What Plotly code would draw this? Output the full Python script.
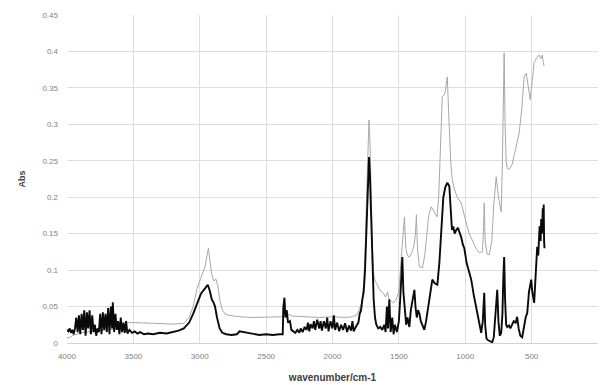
import plotly.graph_objects as go

# Wavenumber (cm-1) and absorbance for the two IR spectra.
black_wn = [
    4000, 3990, 3980, 3970, 3960, 3950, 3940, 3930, 3920, 3910,
    3900, 3890, 3880, 3870, 3860, 3850, 3840, 3830, 3820, 3810,
    3800, 3790, 3780, 3770, 3760, 3750, 3740, 3730, 3720, 3710,
    3700, 3690, 3680, 3670, 3660, 3655, 3645, 3635, 3625, 3615,
    3605, 3595, 3585, 3575, 3565, 3555, 3545,
    3530, 3510, 3490, 3470, 3450, 3420, 3390, 3350, 3300, 3250,
    3200, 3160, 3120, 3080, 3050, 3020, 2990, 2960, 2940, 2925,
    2910, 2895, 2885, 2870, 2850, 2830, 2800, 2760, 2720, 2700,
    2670, 2640, 2600, 2550, 2500, 2450, 2400, 2375,
    2370, 2362, 2355, 2345, 2335, 2320, 2310, 2295, 2280, 2265,
    2250, 2240, 2225, 2210, 2195, 2185, 2175, 2165, 2150, 2140,
    2130, 2115, 2100, 2090, 2080, 2065, 2050, 2040, 2030, 2015,
    2000, 1990, 1980, 1965, 1950, 1935, 1920, 1905, 1890, 1875,
    1860, 1850, 1840, 1825, 1815,
    1805, 1795, 1785, 1775, 1765, 1755, 1745, 1735, 1725, 1718,
    1710, 1700, 1690, 1680, 1670, 1655, 1640, 1625, 1610, 1600,
    1590, 1582, 1572, 1562, 1550, 1540, 1530, 1515,
    1500, 1490, 1482, 1474, 1466, 1455, 1445, 1435, 1421, 1410,
    1400, 1390, 1383, 1375, 1365, 1355, 1345, 1335, 1320, 1308,
    1295, 1280, 1265, 1248, 1230, 1210, 1195, 1180, 1165, 1150,
    1135, 1120, 1110, 1100, 1090, 1080, 1068, 1055, 1040, 1030,
    1018, 1007,
    990, 970, 955, 935, 920, 910, 895, 880, 868, 857,
    850, 840, 830, 815, 797, 785, 775, 765, 759, 750,
    740, 729, 720, 713, 707, 700, 692, 684, 670, 660,
    647, 635, 620, 609, 598, 585, 571, 560, 545, 533,
    520, 503, 495, 481, 470, 458, 450, 440, 432, 428,
    422, 416, 412, 409, 406, 403,
]
black_abs = [
    0.018, 0.016, 0.020, 0.014, 0.018, 0.012, 0.020, 0.035, 0.015, 0.038,
    0.012, 0.040, 0.018, 0.045, 0.010, 0.042, 0.020, 0.045, 0.012, 0.038,
    0.015, 0.025, 0.010, 0.020, 0.015, 0.040, 0.012, 0.042, 0.018, 0.040,
    0.015, 0.048, 0.012, 0.050, 0.020, 0.056, 0.015, 0.040, 0.018, 0.030,
    0.012, 0.035, 0.015, 0.028, 0.014, 0.030, 0.013,
    0.018, 0.014, 0.016, 0.013, 0.015, 0.012, 0.013, 0.012, 0.014, 0.013,
    0.015, 0.017, 0.020, 0.028, 0.040, 0.055, 0.068, 0.075, 0.080, 0.072,
    0.060, 0.055, 0.050, 0.035, 0.020, 0.014, 0.012, 0.011, 0.012, 0.016,
    0.015, 0.013, 0.012, 0.011, 0.012, 0.011, 0.012, 0.012,
    0.050, 0.062, 0.035, 0.045, 0.028, 0.030, 0.018, 0.016, 0.014, 0.018,
    0.014, 0.020, 0.015, 0.022, 0.018, 0.028, 0.016, 0.026, 0.020, 0.030,
    0.018, 0.032, 0.020, 0.030, 0.017, 0.030, 0.020, 0.035, 0.016, 0.030,
    0.020, 0.038, 0.018, 0.028, 0.016, 0.025, 0.018, 0.027, 0.015, 0.024,
    0.017, 0.030, 0.016, 0.022, 0.025,
    0.028, 0.040, 0.045, 0.060, 0.070, 0.100, 0.160, 0.220, 0.255, 0.230,
    0.170, 0.100, 0.060, 0.035, 0.025, 0.020, 0.022, 0.018, 0.025, 0.015,
    0.050, 0.020, 0.060, 0.015, 0.035, 0.012, 0.025, 0.015,
    0.030, 0.060, 0.090, 0.118, 0.070, 0.040, 0.025, 0.035, 0.022, 0.045,
    0.055, 0.065, 0.073, 0.050, 0.035, 0.045, 0.040, 0.030, 0.022, 0.018,
    0.030, 0.050, 0.070, 0.087, 0.082, 0.080, 0.110, 0.160, 0.200, 0.214,
    0.220, 0.215, 0.190, 0.155, 0.160, 0.150, 0.155, 0.158, 0.150, 0.145,
    0.135, 0.130,
    0.110, 0.095, 0.087, 0.065, 0.050, 0.045, 0.025, 0.014, 0.030, 0.069,
    0.025, 0.006, 0.004, 0.003, 0.001, 0.008, 0.030, 0.060, 0.073, 0.030,
    0.010, 0.014, 0.040, 0.090, 0.118, 0.060, 0.025, 0.022, 0.024, 0.020,
    0.025, 0.030, 0.028, 0.036, 0.020, 0.010, 0.008, 0.020, 0.035, 0.041,
    0.070, 0.087, 0.070, 0.055, 0.090, 0.132, 0.120, 0.160, 0.140, 0.170,
    0.150, 0.185, 0.160, 0.190, 0.140, 0.130,
]

gray_wn = [
    4000, 3980, 3960, 3930, 3900, 3850, 3800, 3750, 3700, 3650,
    3600, 3570, 3545,
    3500, 3400, 3300, 3200, 3120, 3080, 3050, 3020, 2990, 2960,
    2945, 2935, 2925, 2910, 2895, 2880, 2865, 2850, 2830, 2810,
    2780, 2700, 2600, 2500, 2400, 2375,
    2368, 2362, 2355, 2340, 2300, 2200, 2100, 2000, 1900, 1850,
    1820,
    1800, 1780, 1765, 1755, 1745, 1735, 1725, 1718, 1710, 1700,
    1690, 1680, 1669, 1650, 1630, 1615, 1600, 1585, 1575, 1560,
    1540, 1520,
    1500, 1485, 1474, 1465, 1458, 1448, 1435, 1421, 1400, 1385,
    1375, 1368, 1360, 1346, 1323, 1305, 1290, 1275, 1256, 1235,
    1213, 1200, 1190, 1180, 1173, 1160, 1150, 1140, 1135, 1128,
    1120, 1110, 1098, 1080, 1060, 1030,
    1000, 970, 947, 920, 895, 870, 862, 857, 850, 835,
    819, 800, 785, 767, 750, 729, 720, 712, 707, 700,
    692, 684, 670, 647, 620, 594, 575, 556, 540, 525,
    511, 495, 481, 465, 443, 430, 420, 412, 406,
]
gray_abs = [
    0.008, 0.007, 0.010, 0.012, 0.014, 0.015, 0.016, 0.017, 0.018, 0.019,
    0.020, 0.024, 0.028,
    0.028, 0.027, 0.026, 0.026, 0.027, 0.035, 0.050, 0.075, 0.090, 0.105,
    0.120, 0.130, 0.115, 0.095, 0.085, 0.088, 0.080, 0.060, 0.045, 0.040,
    0.038, 0.036, 0.035, 0.035, 0.035, 0.036,
    0.050, 0.062, 0.045, 0.040, 0.037, 0.036, 0.035, 0.036, 0.035, 0.036,
    0.038,
    0.045, 0.055, 0.080, 0.120, 0.190, 0.260, 0.306, 0.280, 0.200, 0.130,
    0.095, 0.085, 0.082, 0.075, 0.070, 0.068, 0.063, 0.070, 0.060, 0.058,
    0.055, 0.060,
    0.070, 0.110, 0.140, 0.160, 0.173, 0.130, 0.120, 0.118, 0.125, 0.135,
    0.150, 0.176, 0.130, 0.105, 0.103, 0.120, 0.150, 0.175, 0.187, 0.180,
    0.173, 0.200, 0.260, 0.320, 0.338, 0.340, 0.345, 0.360, 0.365, 0.330,
    0.290, 0.250, 0.224, 0.210, 0.200, 0.192,
    0.170, 0.150, 0.141, 0.130, 0.124, 0.125, 0.160, 0.192, 0.140, 0.122,
    0.121, 0.140, 0.190, 0.228, 0.200, 0.180, 0.250, 0.350, 0.398, 0.300,
    0.250, 0.240, 0.238, 0.245, 0.265, 0.288, 0.320, 0.365, 0.370, 0.350,
    0.334, 0.360, 0.385, 0.390, 0.395, 0.390, 0.395, 0.385, 0.380,
]

x_ticks = [4000, 3500, 3000, 2500, 2000, 1500, 1000, 500, 0]
y_ticks = [0, 0.05, 0.1, 0.15, 0.2, 0.25, 0.3, 0.35, 0.4, 0.45]

fig = go.Figure()
fig.add_trace(go.Scatter(
    x=gray_wn, y=gray_abs, mode="lines",
    line=dict(color="#a8a8a8", width=1),
    showlegend=False,
))
fig.add_trace(go.Scatter(
    x=black_wn, y=black_abs, mode="lines",
    line=dict(color="#0a0a0a", width=1.9),
    showlegend=False,
))

tick_font = dict(family="Liberation Sans, Arial, sans-serif", size=8, color="#7f7f7f")
title_font = dict(family="Liberation Sans, Arial, sans-serif", size=10, color="#404040")

fig.update_layout(
    width=600, height=385,
    margin=dict(l=67, r=2, t=15, b=42),
    paper_bgcolor="white", plot_bgcolor="white",
    xaxis=dict(
        range=[4000, 0], tickvals=x_ticks, ticktext=[str(v) for v in x_ticks],
        showgrid=True, gridcolor="#dedede", gridwidth=1,
        zeroline=False, showline=True, linecolor="#d0d0d0", linewidth=1,
        ticks="", tickfont=tick_font, ticklabelstandoff=5,
        title=dict(text="<b>wavenumber/cm-1</b>", font=title_font, standoff=14),
    ),
    yaxis=dict(
        range=[0, 0.45], tickvals=y_ticks, ticktext=["0", "0.05", "0.1", "0.15", "0.2", "0.25", "0.3", "0.35", "0.4", "0.45"],
        showgrid=True, gridcolor="#dedede", gridwidth=1,
        zeroline=False, showline=False,
        ticks="", tickfont=tick_font, ticklabelstandoff=8,
        title=dict(text="<b>Abs</b>", font=dict(family="Liberation Sans, Arial, sans-serif", size=9, color="#404040"), standoff=15),
    ),
)

fig.write_html("out.html")
